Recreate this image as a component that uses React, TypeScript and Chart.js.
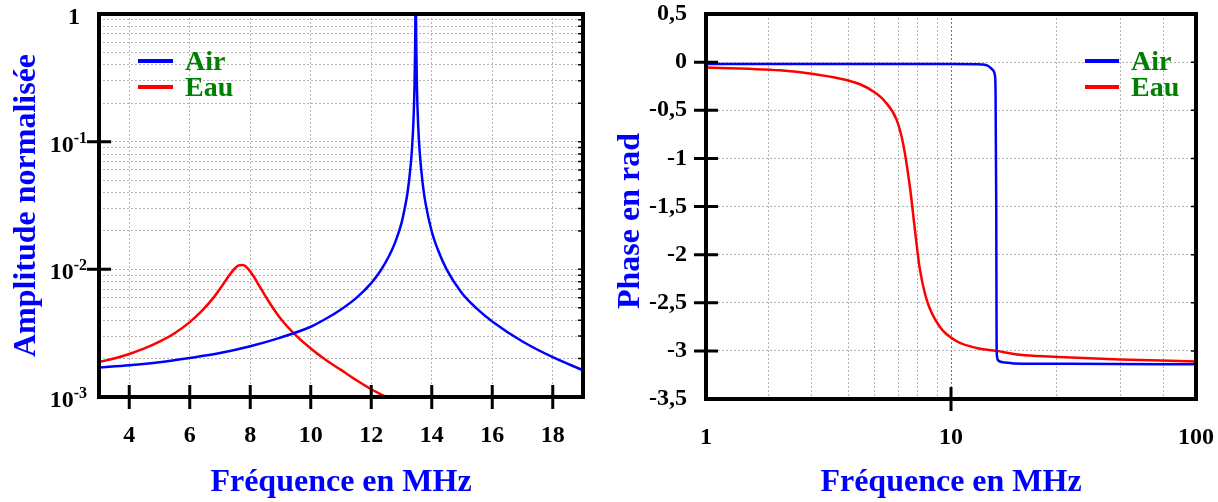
import React, { useEffect, useRef } from "react";
import { Chart, registerables } from "chart.js";

Chart.register(...registerables);

// ---------- DATA ----------
// Amplitude (left chart)
const ampFreqAir = [3, 4, 5, 6, 7, 8, 9, 10, 10.5, 11, 11.5, 12, 12.3, 12.6, 12.8, 13.0, 13.1, 13.2, 13.3, 13.35, 13.4, 13.43, 13.45, 13.47, 13.49, 13.51, 13.55, 13.6, 13.7, 13.8, 14.0, 14.2, 14.5, 15, 15.5, 16, 17, 18, 19];
const ampAir = [1.7e-3, 1.77e-3, 1.87e-3, 2.02e-3, 2.21e-3, 2.5e-3, 2.92e-3, 3.55e-3, 4.1e-3, 4.85e-3, 5.95e-3, 7.8e-3, 9.7e-3, 1.29e-2, 1.65e-2, 2.3e-2, 2.95e-2, 4.0e-2, 6.4e-2, 0.09, 0.155, 0.27, 0.54, 1.5, 0.54, 0.27, 0.136, 0.084, 0.047, 0.0324, 0.0198, 0.0143, 0.0099, 6.5e-3, 4.9e-3, 3.9e-3, 2.72e-3, 2.05e-3, 1.62e-3];
const ampFreqEau = [3, 3.5, 4, 4.5, 5, 5.5, 6, 6.4, 6.8, 7.0, 7.2, 7.4, 7.6, 7.75, 7.9, 8.1, 8.3, 8.6, 9.0, 9.5, 10, 10.5, 11, 11.5, 12, 12.5, 13];
const ampEau = [1.88e-3, 2.0e-3, 2.17e-3, 2.4e-3, 2.71e-3, 3.16e-3, 3.86e-3, 4.72e-3, 6.06e-3, 7.04e-3, 8.26e-3, 9.6e-3, 1.067e-2, 1.082e-2, 1.028e-2, 8.9e-3, 7.41e-3, 5.65e-3, 4.12e-3, 3.05e-3, 2.4e-3, 1.95e-3, 1.63e-3, 1.36e-3, 1.15e-3, 1.0e-3, 8.8e-4];

// Phase (right chart)
const phaseFreqAir = [1, 2, 5, 10, 13.5, 14.2, 14.8, 15.1, 15.2, 15.3, 15.35, 15.4, 15.6, 16.5, 18, 30, 100];
const phaseAir = [-0.02, -0.02, -0.02, -0.02, -0.025, -0.04, -0.08, -0.13, -0.3, -1.5, -2.9, -3.05, -3.1, -3.12, -3.13, -3.135, -3.14];
const phaseFreqEau = [1, 1.5, 2, 2.7, 3.5, 4.25, 4.85, 5.38, 6.0, 6.38, 6.8, 7.13, 7.43, 7.96, 9.0, 10.55, 12.7, 15.3, 19.1, 26, 49, 100];
const phaseEau = [-0.055, -0.07, -0.085, -0.12, -0.17, -0.23, -0.31, -0.41, -0.6, -0.85, -1.3, -1.75, -2.12, -2.47, -2.75, -2.9, -2.97, -3.0, -3.04, -3.06, -3.09, -3.11];

// Series / ticks
const seriesNames = ["Air", "Eau"];
const seriesColors = ["#0000ff", "#ff0000"];
const ampXTicks = [4, 6, 8, 10, 12, 14, 16, 18];
const ampDecades = [0.001, 0.01, 0.1, 1];
const ampDecadeLabels = [["10", "-3"], ["10", "-2"], ["10", "-1"], ["1", ""]];
const ampMinorMult = [2, 3, 4, 5, 6, 7, 8, 9];
const ampMajorTickMarks = [0.01, 0.1];
const phaseYTicks = [0.5, 0, -0.5, -1, -1.5, -2, -2.5, -3, -3.5];
const phaseYTickMarks = [0, -0.5, -1, -1.5, -2, -2.5, -3];
const phaseXGrid = [1, 1.8, 2.7, 3.8, 4.85, 6.1, 7.3, 8.8, 10, 27, 49, 73.5, 100];
const phaseXLabels = [1, 10, 100];
const phaseXTickMarks = [10];

const FAMILY = '"Liberation Serif", "Times New Roman", serif';
const GRID = "#b4b4b4";

function ampGridValues() {
  const vals: number[] = [];
  ampDecades.forEach((d, i) => {
    vals.push(d);
    if (i < ampDecades.length - 1) ampMinorMult.forEach((m) => vals.push(d * m));
  });
  return vals;
}

type Deco = {
  yMarks: number[];
  xMarks: number[];
  rightMinor: number[];
  legend: { x1: number; x2: number; tx: number; ys: number[] };
  yLabels?: { value: number; base: string; sup: string }[];
  yLabelRight?: number;
  yTitle?: { text: string; x: number; y: number };
};

function makeDeco(d: Deco) {
  return {
    id: "deco",
    afterDraw(chart: any) {
      const { ctx, chartArea: a, scales } = chart;
      const xs = scales.x;
      const ys = scales.y;
      ctx.save();
      // minor ticks on right border
      ctx.strokeStyle = "#000";
      ctx.lineWidth = 1.5;
      ctx.beginPath();
      d.rightMinor.forEach((v) => {
        const y = ys.getPixelForValue(v);
        ctx.moveTo(a.right - 5, y);
        ctx.lineTo(a.right, y);
      });
      ctx.stroke();
      // major tick marks crossing the axes
      ctx.lineWidth = 3;
      ctx.beginPath();
      d.yMarks.forEach((v) => {
        const y = ys.getPixelForValue(v);
        ctx.moveTo(a.left - 12, y);
        ctx.lineTo(a.left + 12, y);
      });
      d.xMarks.forEach((v) => {
        const x = xs.getPixelForValue(v);
        ctx.moveTo(x, a.bottom - 12);
        ctx.lineTo(x, a.bottom + 12);
      });
      ctx.stroke();
      // frame
      ctx.lineWidth = 4;
      ctx.strokeRect(a.left, a.top, a.right - a.left, a.bottom - a.top);
      // legend
      chart.data.datasets.forEach((ds: any, i: number) => {
        const y = d.legend.ys[i];
        ctx.strokeStyle = ds.borderColor;
        ctx.lineWidth = 4;
        ctx.beginPath();
        ctx.moveTo(d.legend.x1, y);
        ctx.lineTo(d.legend.x2, y);
        ctx.stroke();
        ctx.fillStyle = "#008000";
        ctx.font = `bold 28px ${FAMILY}`;
        ctx.textAlign = "left";
        ctx.textBaseline = "alphabetic";
        ctx.fillText(ds.label, d.legend.tx, y + 9);
      });
      // custom log labels with superscripts
      if (d.yLabels) {
        ctx.fillStyle = "#000";
        ctx.textBaseline = "alphabetic";
        ctx.textAlign = "left";
        d.yLabels.forEach((l) => {
          const y = ys.getPixelForValue(l.value);
          ctx.font = `bold 16px ${FAMILY}`;
          const supW = l.sup ? ctx.measureText(l.sup).width : 0;
          ctx.font = `bold 24px ${FAMILY}`;
          const baseW = ctx.measureText(l.base).width;
          const right = l.sup ? d.yLabelRight! : d.yLabelRight! - 7;
          const bx = right - supW - baseW;
          ctx.fillText(l.base, bx, y + 10);
          if (l.sup) {
            ctx.font = `bold 16px ${FAMILY}`;
            ctx.fillText(l.sup, bx + baseW, y + 1);
          }
        });
      }
      if (d.yTitle) {
        ctx.translate(d.yTitle.x, d.yTitle.y);
        ctx.rotate(-Math.PI / 2);
        ctx.fillStyle = "#0000ff";
        ctx.font = `bold 32px ${FAMILY}`;
        ctx.textAlign = "center";
        ctx.textBaseline = "middle";
        ctx.fillText(d.yTitle.text, 0, 0);
      }
      ctx.restore();
    },
  };
}

function series(xs: number[], ys: number[]) {
  return xs.map((x, i) => ({ x, y: ys[i] }));
}

function dataset(i: number, data: { x: number; y: number }[]) {
  return {
    label: seriesNames[i],
    data,
    borderColor: seriesColors[i],
    backgroundColor: seriesColors[i],
    borderWidth: 2.5,
    pointRadius: 0,
    fill: false,
    cubicInterpolationMode: "monotone" as const,
  };
}

const tickFont = { family: FAMILY, size: 24, weight: "bold" as const };
const titleFont = { family: FAMILY, size: 32, weight: "bold" as const };

export default function App() {
  const leftRef = useRef<HTMLCanvasElement>(null);
  const rightRef = useRef<HTMLCanvasElement>(null);

  useEffect(() => {
    const ampChart = new Chart(leftRef.current!, {
      type: "line",
      data: {
        datasets: [dataset(0, series(ampFreqAir, ampAir)), dataset(1, series(ampFreqEau, ampEau))],
      },
      options: {
        animation: false,
        responsive: false,
        layout: { padding: { top: 14, right: 26, left: 0, bottom: 0 } },
        plugins: { legend: { display: false }, tooltip: { enabled: false } },
        scales: {
          x: {
            type: "linear",
            min: 3,
            max: 19,
            afterBuildTicks: (s: any) => {
              s.ticks = ampXTicks.map((v) => ({ value: v }));
            },
            afterFit: (s: any) => {
              s.height = 105;
              s.paddingLeft = 0;
              s.paddingRight = 0;
            },
            ticks: {
              font: tickFont,
              color: "#000",
              padding: 24,
              maxRotation: 0,
              autoSkip: false,
              callback: (v: any) => String(v),
            },
            grid: { color: GRID, lineWidth: 1, drawTicks: false },
            border: { display: false, dash: [2, 2] },
            title: {
              display: true,
              text: "Fréquence en MHz",
              color: "#0000ff",
              font: titleFont,
              padding: { top: 0, bottom: 0 },
            },
          },
          y: {
            type: "logarithmic",
            min: 0.001,
            max: 1,
            afterBuildTicks: (s: any) => {
              s.ticks = ampGridValues().map((v) => ({ value: v }));
            },
            afterFit: (s: any) => {
              s.width = 99;
              s.paddingTop = 0;
              s.paddingBottom = 0;
            },
            ticks: { display: false },
            grid: { color: GRID, lineWidth: 1, drawTicks: false },
            border: { display: false, dash: [2, 2] },
            title: {
              display: true,
              text: "Amplitude normalisée",
              color: "#0000ff",
              font: titleFont,
              padding: { top: 8, bottom: 0 },
            },
          },
        },
      },
      plugins: [
        makeDeco({
          yMarks: ampMajorTickMarks,
          xMarks: ampXTicks,
          rightMinor: ampGridValues(),
          legend: { x1: 138, x2: 173, tx: 185, ys: [61, 87] },
          yLabels: ampDecades.map((v, i) => ({ value: v, base: ampDecadeLabels[i][0], sup: ampDecadeLabels[i][1] })),
          yLabelRight: 87,
        }),
      ],
    } as any);

    const phaseChart = new Chart(rightRef.current!, {
      type: "line",
      data: {
        datasets: [dataset(0, series(phaseFreqAir, phaseAir)), dataset(1, series(phaseFreqEau, phaseEau))],
      },
      options: {
        animation: false,
        responsive: false,
        layout: { padding: { top: 14, right: 22, left: 0, bottom: 0 } },
        plugins: { legend: { display: false }, tooltip: { enabled: false } },
        scales: {
          x: {
            type: "logarithmic",
            min: 1,
            max: 100,
            afterBuildTicks: (s: any) => {
              s.ticks = phaseXGrid.map((v) => ({ value: v }));
            },
            afterFit: (s: any) => {
              s.height = 103;
              s.paddingLeft = 0;
              s.paddingRight = 0;
            },
            ticks: {
              font: tickFont,
              color: "#000",
              padding: 24,
              maxRotation: 0,
              autoSkip: false,
              callback: (v: any) => (phaseXLabels.includes(Number(v)) ? String(v) : ""),
            },
            grid: {
              color: (c: any) => (c.tick && c.tick.value === 10 ? "#707070" : GRID),
              lineWidth: 1,
              drawTicks: false,
            },
            border: { display: false, dash: [2, 2] },
            title: {
              display: true,
              text: "Fréquence en MHz",
              color: "#0000ff",
              font: titleFont,
              padding: { top: 0, bottom: 0 },
            },
          },
          y: {
            type: "linear",
            min: -3.5,
            max: 0.5,
            afterBuildTicks: (s: any) => {
              s.ticks = phaseYTicks.map((v) => ({ value: v }));
            },
            afterFit: (s: any) => {
              s.width = 97;
              s.paddingTop = 0;
              s.paddingBottom = 0;
            },
            ticks: {
              font: tickFont,
              color: "#000",
              padding: 19,
              autoSkip: false,
              callback: (v: any) => String(v).replace(".", ","),
            },
            grid: { color: GRID, lineWidth: 1, drawTicks: false },
            border: { display: false, dash: [2, 2] },
            title: { display: false },
          },
        },
      },
      plugins: [
        makeDeco({
          yMarks: phaseYTickMarks,
          xMarks: phaseXTickMarks,
          rightMinor: phaseYTicks,
          legend: { x1: 476, x2: 510, tx: 522, ys: [61, 87] },
          yTitle: { text: "Phase en rad", x: 22, y: 221 },
        }),
      ],
    } as any);

    return () => {
      ampChart.destroy();
      phaseChart.destroy();
    };
  }, []);

  return (
    <div
      style={{
        position: "absolute",
        left: 0,
        top: 0,
        width: 1218,
        height: 502,
        display: "flex",
        background: "#fff",
      }}
    >
      <canvas ref={leftRef} width={609} height={502} style={{ display: "block", width: 609, height: 502 }} />
      <canvas ref={rightRef} width={609} height={502} style={{ display: "block", width: 609, height: 502 }} />
    </div>
  );
}
